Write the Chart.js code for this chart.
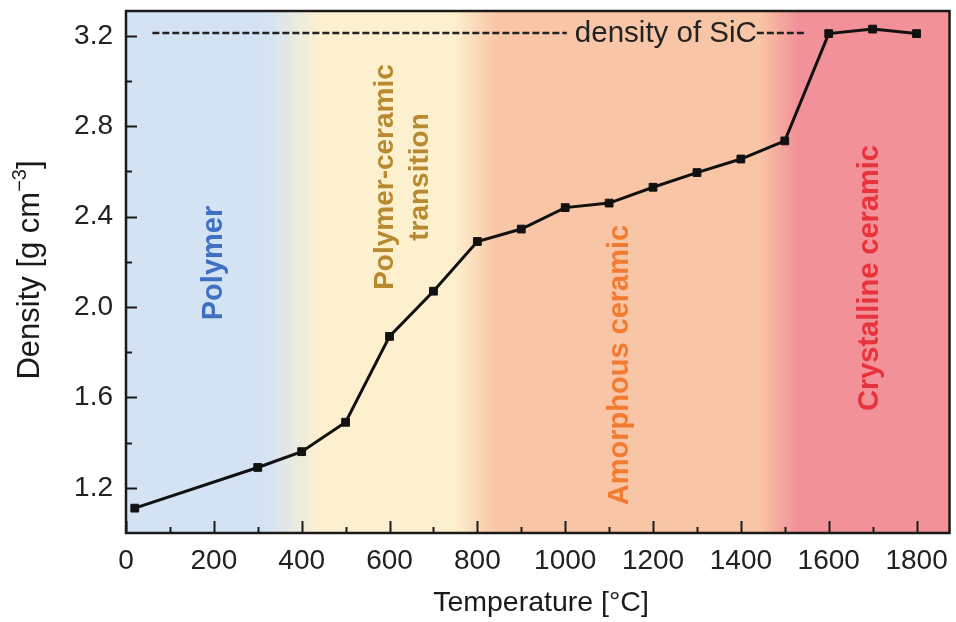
<!DOCTYPE html>
<html>
<head>
<meta charset="utf-8">
<script src="https://cdn.jsdelivr.net/npm/chart.js@4.4.1/dist/chart.umd.min.js"></script>
<style>
  html, body { margin: 0; padding: 0; background: #fff; }
  #wrap { width: 956px; height: 622px; }
</style>
</head>
<body>
<div id="wrap"><canvas id="chart" width="956" height="622"></canvas></div>
<script>
// data
const temperatures = [20, 300, 400, 500, 600, 700, 800, 900, 1000, 1100, 1200, 1300, 1400, 1500, 1600, 1700, 1800];
const densities = [1.11, 1.29, 1.36, 1.49, 1.87, 2.07, 2.29, 2.345, 2.44, 2.46, 2.53, 2.595, 2.655, 2.735, 3.21, 3.23, 3.21];
const xTickLabels = [0, 200, 400, 600, 800, 1000, 1200, 1400, 1600, 1800];
const xMinorTicks = [100, 300, 500, 700, 900, 1100, 1300, 1500, 1700];
const yTickLabels = [1.2, 1.6, 2.0, 2.4, 2.8, 3.2];
const yMinorTicks = [1.4, 1.8, 2.2, 2.6, 3.0];
const sicDensity = 3.213;

// background regions (temperature where each colour is solid)
const bandStops = [
    { t: 0, color: '#d3e3f4' },
    { t: 320, color: '#d3e3f4' },
    { t: 440, color: '#fdf0cf' },
    { t: 745, color: '#fdf0cf' },
    { t: 845, color: '#f8c6a6' },
    { t: 1440, color: '#f8c6a6' },
    { t: 1530, color: '#f29197' },
    { t: 1875, color: '#f29197' }
];

const regionLabels = [
    { lines: ['Polymer'], x: 200, y: 263, size: 29, color: '#3f70c2' },
    { lines: ['Polymer-ceramic', 'transition'], x: 630, y: 177, size: 28, color: '#b8892e' },
    { lines: ['Amorphous ceramic'], x: 1125, y: 365, size: 29, color: '#f27b32' },
    { lines: ['Crystalline ceramic'], x: 1695, y: 278, size: 29, color: '#e8323c' }
];

const FONT = '"Liberation Sans", Arial, Helvetica, sans-serif';

const backdrop = {
    id: 'backdrop',
    beforeDatasetsDraw(chart) {
        const { ctx, chartArea: area, scales: { x, y } } = chart;
        ctx.save();
        // coloured bands
        const x0 = x.getPixelForValue(x.min), x1 = x.getPixelForValue(x.max);
        const grad = ctx.createLinearGradient(x0, 0, x1, 0);
        bandStops.forEach(s => {
            grad.addColorStop((x.getPixelForValue(s.t) - x0) / (x1 - x0), s.color);
        });
        ctx.fillStyle = grad;
        ctx.fillRect(area.left, area.top, area.right - area.left, area.bottom - area.top);

        // vertical region names
        ctx.textAlign = 'center';
        ctx.textBaseline = 'middle';
        regionLabels.forEach(r => {
            const px = x.getPixelForValue(r.x);
            ctx.font = 'bold ' + r.size + 'px ' + FONT;
            ctx.fillStyle = r.color;
            r.lines.forEach((line, i) => {
                const off = (i - (r.lines.length - 1) / 2) * 35;
                ctx.save();
                ctx.translate(px + off, r.y);
                ctx.rotate(-Math.PI / 2);
                ctx.fillText(line, 0, 0);
                ctx.restore();
            });
        });

        // density of SiC reference
        const yy = y.getPixelForValue(sicDensity);
        const startX = x.getPixelForValue(60);
        const endX = x.getPixelForValue(1545);
        const textX = x.getPixelForValue(1022);
        ctx.font = '29.5px ' + FONT;
        const label = 'density of SiC';
        const w = ctx.measureText(label).width;
        ctx.strokeStyle = '#222';
        ctx.lineWidth = 2.5;
        ctx.setLineDash([7, 3]);
        ctx.beginPath();
        ctx.moveTo(startX, yy);
        ctx.lineTo(textX - 8, yy);
        ctx.moveTo(textX + w, yy);
        ctx.lineTo(endX, yy);
        ctx.stroke();
        ctx.setLineDash([]);
        ctx.fillStyle = '#222';
        ctx.textAlign = 'left';
        ctx.textBaseline = 'middle';
        ctx.fillText(label, textX, yy + 1);
        ctx.restore();
    },
    afterDraw(chart) {
        const { ctx, chartArea: area, scales: { x, y } } = chart;
        ctx.save();
        ctx.strokeStyle = '#1a1a1a';
        ctx.lineWidth = 2;
        ctx.beginPath();
        xTickLabels.forEach(v => {
            const px = Math.round(x.getPixelForValue(v)) + 0.5;
            ctx.moveTo(px, area.bottom); ctx.lineTo(px, area.bottom - 12);
        });
        xMinorTicks.forEach(v => {
            const px = Math.round(x.getPixelForValue(v)) + 0.5;
            ctx.moveTo(px, area.bottom); ctx.lineTo(px, area.bottom - 6);
        });
        yTickLabels.forEach(v => {
            const py = Math.round(y.getPixelForValue(v)) + 0.5;
            ctx.moveTo(area.left, py); ctx.lineTo(area.left + 11, py);
        });
        yMinorTicks.forEach(v => {
            const py = Math.round(y.getPixelForValue(v)) + 0.5;
            ctx.moveTo(area.left, py); ctx.lineTo(area.left + 6, py);
        });
        ctx.stroke();
        ctx.lineWidth = 2.5;
        ctx.strokeRect(area.left, area.top, area.right - area.left, area.bottom - area.top);

        // axis titles
        ctx.fillStyle = '#1a1a1a';
        ctx.font = '28.5px ' + FONT;
        ctx.textAlign = 'center';
        ctx.textBaseline = 'middle';
        ctx.fillText('Temperature [°C]', 541, 603);

        ctx.translate(30, 270);
        ctx.rotate(-Math.PI / 2);
        const main = 'Density [g cm', sup = '\u22123', end = ']';
        ctx.font = '31px ' + FONT;
        const wMain = ctx.measureText(main).width;
        const wEnd = ctx.measureText(end).width;
        ctx.font = '20px ' + FONT;
        const wSup = ctx.measureText(sup).width;
        const total = wMain + wSup + wEnd;
        ctx.textAlign = 'left';
        let cx = -total / 2;
        ctx.font = '31px ' + FONT;
        ctx.fillText(main, cx, 0);
        cx += wMain;
        ctx.font = '20px ' + FONT;
        ctx.fillText(sup, cx, -10);
        cx += wSup;
        ctx.font = '31px ' + FONT;
        ctx.fillText(end, cx, 0);
        ctx.restore();
    }
};

const points = temperatures.map((t, i) => ({ x: t, y: densities[i] }));

new Chart(document.getElementById('chart'), {
    type: 'line',
    data: {
        datasets: [{
            data: points,
            borderColor: '#111',
            borderWidth: 3,
            tension: 0,
            pointStyle: 'rect',
            pointRadius: 5.5,
            pointBackgroundColor: '#111',
            pointBorderColor: '#111',
            pointBorderWidth: 1
        }]
    },
    options: {
        responsive: false,
        animation: false,
        layout: { padding: { top: 11, right: 1, left: 0, bottom: 0 } },
        plugins: { legend: { display: false }, tooltip: { enabled: false } },
        scales: {
            x: {
                type: 'linear',
                min: 0,
                max: 1875,
                afterBuildTicks: scale => { scale.ticks = xTickLabels.map(v => ({ value: v })); },
                afterFit: scale => {
                    scale.height = 89;
                    scale.paddingLeft = 0;
                    scale.paddingRight = 0;
                },
                grid: { display: false, drawTicks: false },
                border: { display: false },
                ticks: {
                    font: { family: FONT, size: 28 },
                    color: '#222',
                    padding: 11,
                    maxRotation: 0,
                    callback: v => String(v)
                }
            },
            y: {
                min: 1.0,
                max: 3.31,
                afterBuildTicks: scale => { scale.ticks = yTickLabels.map(v => ({ value: v })); },
                afterFit: scale => {
                    scale.width = 126;
                    scale.paddingTop = 0;
                    scale.paddingBottom = 0;
                },
                grid: { display: false, drawTicks: false },
                border: { display: false },
                ticks: {
                    font: { family: FONT, size: 28 },
                    color: '#222',
                    padding: 13,
                    callback: v => Number(v).toFixed(1)
                }
            }
        }
    },
    plugins: [backdrop]
});
</script>
</body>
</html>
